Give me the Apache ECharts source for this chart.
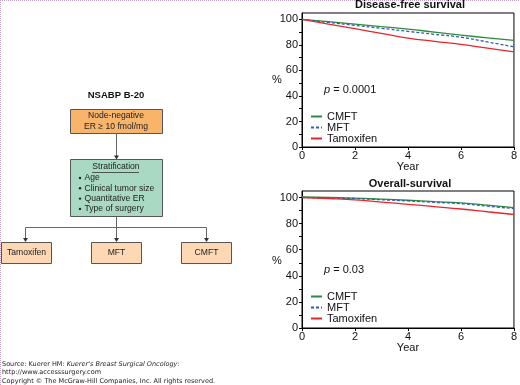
<!DOCTYPE html>
<html><head><meta charset="utf-8">
<script src="https://cdn.jsdelivr.net/npm/echarts@6/dist/echarts.min.js"></script>
<style>html,body{margin:0;padding:0;background:#fff}#c{width:520px;height:385px}</style>
</head><body><div id="c"></div>
<script>
var years = [0,1,2,3,4,5,6,7,8];
var dfsCMFT = [100, 98.2, 96.3, 94.3, 92.4, 90.0, 87.7, 85.5, 83.5];
var dfsMFT  = [100, 97.6, 95.3, 93.0, 90.6, 88.3, 86.0, 82.3, 78.5];
var dfsTam  = [100, 96.3, 92.7, 89.0, 85.3, 82.8, 80.4, 77.5, 74.6];
var osCMFT = [100.5, 100, 99.5, 98.7, 97.9, 96.9, 95.9, 94.2, 92.2];
var osMFT  = [100, 99.6, 99.2, 98.3, 97.4, 96.3, 95.3, 93.4, 91.5];
var osTam  = [100, 99.2, 98.2, 96.5, 94.8, 93.0, 91.2, 89.1, 87.0];
var seriesNames = ['CMFT','MFT','Tamoxifen'];
var yTicks = [0,20,40,60,80,100];
var xTicks = [0,2,4,6,8];

function pairs(v){ return years.map(function(y,i){return [y,v[i]];}); }
var colors = {CMFT:'#2e8b3e', MFT:'#2f5fb0', Tamoxifen:'#e8262a'};
var styles = {CMFT:'solid', MFT:[3,2], Tamoxifen:'solid'};
var FONT = 'Liberation Sans, Arial, sans-serif';

function mkSeries(name, data, idx){
  return {type:'line', name:name, xAxisIndex:idx, yAxisIndex:idx, data:pairs(data), symbol:'none', showSymbol:false,
    smooth:true, lineStyle:{color:colors[name], width:1.3, type:styles[name]}, itemStyle:{color:colors[name]}, z:3};
}
function xAx(idx){
  return {type:'value', gridIndex:idx, min:0, max:8, interval:2, name:'Year', nameLocation:'middle', nameGap:14,
    nameTextStyle:{fontFamily:FONT, fontSize:11, color:'#111'},
    axisLine:{lineStyle:{color:'#000', width:1}}, axisTick:{show:true, length:3, lineStyle:{color:'#000'}},
    axisLabel:{fontFamily:FONT, fontSize:11, color:'#111', margin:3}, splitLine:{show:false}};
}
function yAx(idx){
  return {type:'value', gridIndex:idx, min:0, max:105, interval:10,
    axisLine:{show:true, lineStyle:{color:'#000', width:1}}, axisTick:{show:true, length:3, lineStyle:{color:'#000'}},
    axisLabel:{fontFamily:FONT, fontSize:11, color:'#111', margin:4, showMaxLabel:false,
      formatter:function(v){return yTicks.indexOf(v)>=0 ? String(v) : '';}}, splitLine:{show:false}};
}
function legend(top){
  return {show:true, left:310, top:top, orient:'vertical', itemWidth:11, itemHeight:8, itemGap:0, selectedMode:false,
    itemStyle:{opacity:0},
    data:seriesNames.slice(),
    textStyle:{fontFamily:FONT, fontSize:11, color:'#111', lineHeight:9}, padding:0};
}

var g = [];
g.push({type:'line', shape:{x1:0,y1:0.5,x2:520,y2:0.5}, style:{stroke:'#c4a3c8', lineWidth:1, lineDash:[1,1]}});
g.push({type:'line', shape:{x1:0.5,y1:0,x2:0.5,y2:385}, style:{stroke:'#c4a3c8', lineWidth:1, lineDash:[1,1]}});
g.push({type:'text', x:410, y:5, style:{text:'Disease-free survival', font:'bold 11px '+FONT, fill:'#111', align:'center', verticalAlign:'middle'}});
g.push({type:'text', x:410, y:184, style:{text:'Overall-survival', font:'bold 11px '+FONT, fill:'#111', align:'center', verticalAlign:'middle'}});
g.push({type:'text', x:277, y:80, style:{text:'%', font:'11px '+FONT, fill:'#111', align:'center', verticalAlign:'middle'}});
g.push({type:'text', x:277, y:261, style:{text:'%', font:'11px '+FONT, fill:'#111', align:'center', verticalAlign:'middle'}});
g.push({type:'text', x:324, y:90, style:{text:'{i|p} = 0.0001', rich:{i:{fontStyle:'italic', fontFamily:FONT, fontSize:11}}, font:'11px '+FONT, fill:'#111', verticalAlign:'middle'}});
g.push({type:'text', x:324, y:270, style:{text:'{i|p} = 0.03', rich:{i:{fontStyle:'italic', fontFamily:FONT, fontSize:11}}, font:'11px '+FONT, fill:'#111', verticalAlign:'middle'}});

var boxStroke = '#555';
var FS = '8.6px ';
g.push({type:'text', x:116, y:95, style:{text:'NSABP B-20', font:'bold 9.5px '+FONT, fill:'#111', align:'center', verticalAlign:'middle'}});
g.push({type:'rect', shape:{x:70.5,y:109.5,width:92,height:24}, style:{fill:'#f9b46c', stroke:boxStroke, lineWidth:1}});
g.push({type:'text', x:116, y:116, style:{text:'Node-negative', font:FS+FONT, fill:'#222', align:'center', verticalAlign:'middle'}});
g.push({type:'text', x:116, y:127, style:{text:'ER \u2265 10 fmol/mg', font:FS+FONT, fill:'#222', align:'center', verticalAlign:'middle'}});
function arrow(x, y1, y2){
  g.push({type:'line', shape:{x1:x,y1:y1,x2:x,y2:y2-3}, style:{stroke:'#666', lineWidth:1}});
  g.push({type:'polygon', shape:{points:[[x-2.5,y2-4],[x+2.5,y2-4],[x,y2]]}, style:{fill:'#333'}});
}
arrow(116.5, 133.5, 159.5);
g.push({type:'rect', shape:{x:70.5,y:159.5,width:92,height:57}, style:{fill:'#a9d9c2', stroke:boxStroke, lineWidth:1}});
g.push({type:'text', x:116, y:167, style:{text:'Stratification', font:FS+FONT, fill:'#222', align:'center', verticalAlign:'middle'}});
g.push({type:'line', shape:{x1:92,y1:172.5,x2:139,y2:172.5}, style:{stroke:'#333', lineWidth:0.8}});
var bullets = ['Age','Clinical tumor size','Quantitative ER','Type of surgery'];
bullets.forEach(function(b,i){
  var y = 178 + i*10.3;
  g.push({type:'circle', shape:{cx:80,cy:y,r:1.2}, style:{fill:'#222'}});
  g.push({type:'text', x:84.5, y:y, style:{text:b, font:FS+FONT, fill:'#222', verticalAlign:'middle'}});
});
g.push({type:'line', shape:{x1:116.5,y1:216.5,x2:116.5,y2:227.5}, style:{stroke:'#666', lineWidth:1}});
g.push({type:'line', shape:{x1:25.5,y1:227.5,x2:206.5,y2:227.5}, style:{stroke:'#666', lineWidth:1}});
arrow(25.5, 227.5, 242);
arrow(116.5, 227.5, 242);
arrow(206.5, 227.5, 242);
var arms = [['Tamoxifen',1.5],['MFT',91.5],['CMFT',181.5]];
arms.forEach(function(a){
  g.push({type:'rect', shape:{x:a[1],y:242.5,width:50,height:21}, style:{fill:'#fcd8b4', stroke:boxStroke, lineWidth:1}});
  g.push({type:'text', x:a[1]+25, y:253, style:{text:a[0], font:FS+FONT, fill:'#222', align:'center', verticalAlign:'middle'}});
});

var FF = 'DejaVu Sans, Verdana, sans-serif';
g.push({type:'text', x:2, y:364, style:{text:'Source: Kuerer HM: {i|Kuerer\'s Breast Surgical Oncology}:', rich:{i:{fontStyle:'italic', fontFamily:FF, fontSize:6.5}}, font:'6.5px '+FF, fill:'#222', verticalAlign:'middle'}});
g.push({type:'text', x:2, y:372.5, style:{text:'http://www.accesssurgery.com', font:'6.5px '+FF, fill:'#222', verticalAlign:'middle'}});
g.push({type:'text', x:2, y:381, style:{text:'Copyright \u00a9 The McGraw-Hill Companies, Inc. All rights reserved.', font:'6.5px '+FF, fill:'#222', verticalAlign:'middle'}});

var chart = echarts.init(document.getElementById('c'), null, {renderer:'canvas'});
chart.setOption({
  animation:false,
  backgroundColor:'#fff',
  grid:[
    {left:302, right:3, top:13, height:134, show:true, borderColor:'#000', borderWidth:1, backgroundColor:'transparent'},
    {left:302, right:3, top:191, height:137, show:true, borderColor:'#000', borderWidth:1, backgroundColor:'transparent'}
  ],
  xAxis:[xAx(0), xAx(1)],
  yAxis:[yAx(0), yAx(1)],
  legend:[legend(111), legend(291)],
  series:[
    mkSeries('CMFT', dfsCMFT, 0), mkSeries('MFT', dfsMFT, 0), mkSeries('Tamoxifen', dfsTam, 0),
    mkSeries('CMFT', osCMFT, 1), mkSeries('MFT', osMFT, 1), mkSeries('Tamoxifen', osTam, 1)
  ],
  graphic:g
});
</script>
</body></html>
